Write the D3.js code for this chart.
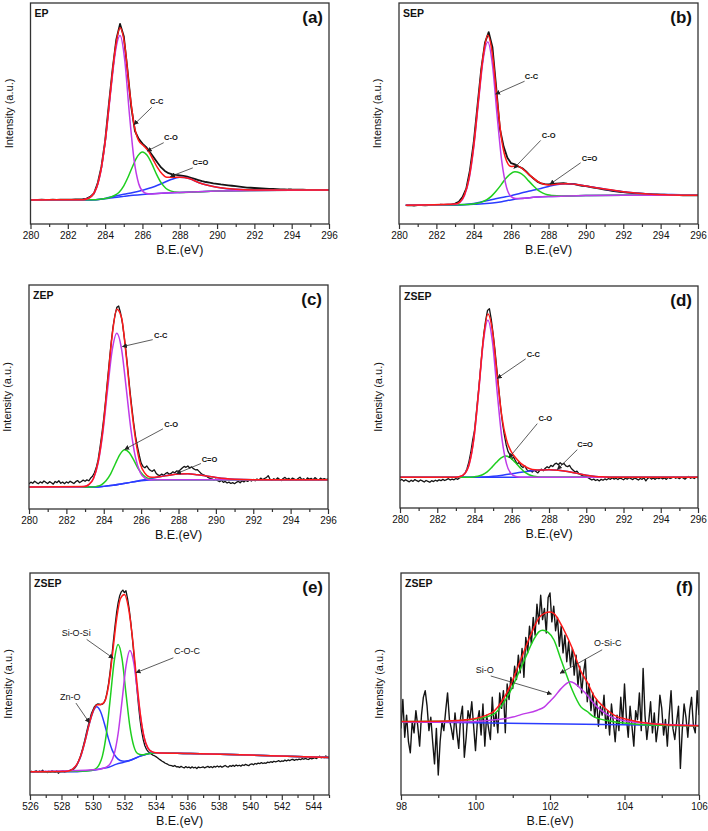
<!DOCTYPE html>
<html>
<head>
<meta charset="utf-8">
<script src="https://cdn.jsdelivr.net/npm/d3@7"></script>
<style>
  body { margin: 0; background: #fff; }
  svg { display: block; font-family: "Liberation Sans", Arial, sans-serif; }
</style>
</head>
<body>
<div id="chart"></div>
<script>
// ---------------- data (intensity in arbitrary units, 0-100 of each panel) ----------------

// (a) EP  C1s
const aBlackStart = 280, aBlackStep = 0.2;
const aBlack = [
  10.9, 10.8, 10.9, 11.0, 10.9, 10.9, 11.0, 10.9, 11.0, 11.0,
  11.0, 11.0, 11.1, 11.1, 11.2, 11.5, 12.3, 13.8, 18.4, 25.8,
  37.5, 54.0, 70.0, 83.5, 90.5, 85.0, 69.5, 53.0, 42.0, 38.5,
  36.4, 34.8, 32.6, 30.2, 27.8, 25.6, 24.0, 23.0, 22.5, 22.2,
  22.0, 21.8, 21.4, 20.9, 20.4, 19.9, 19.4, 19.0, 18.7, 18.4,
  18.2, 17.9, 17.7, 17.5, 17.3, 17.1, 16.9, 16.7, 16.5, 16.4,
  16.3, 16.2, 16.1, 16.0, 15.9, 15.9, 15.8, 15.7, 15.7, 15.6,
  15.6, 15.5, 15.5, 15.5, 15.4, 15.4, 15.4, 15.4, 15.4, 15.4,
  15.4
];
const aBg = [[280,10.9],[283,10.9],[283.5,11.0],[284,11.4],[284.5,12.0],[285,12.5],[285.5,13.0],[286,13.4],[287,13.9],[288,14.3],[289,14.6],[290,14.9],[292,15.2],[294,15.35],[296,15.4]];
const aCC = [[280,10.9],[282.8,11.0],[283.05,11.4],[283.3,12.75],[283.55,16.5],[283.8,25.2],[284.05,40.3],[284.3,60.0],[284.55,77.9],[284.8,85.3],[285.05,74.3],[285.3,49.9],[285.55,29.1],[285.8,18.2],[286.05,14.55],[286.3,13.7],[286.55,13.6],[287,13.9],[288,14.3],[290,14.9],[292,15.2],[296,15.4]];
const aCO = [[280,10.9],[283.5,11.0],[284,11.5],[284.25,12.0],[284.5,12.9],[284.75,14.4],[285,17.3],[285.25,21.6],[285.5,26.6],[285.75,30.8],[286,32.6],[286.25,31.1],[286.5,27.3],[286.75,22.6],[287,18.7],[287.25,16.2],[287.5,15.0],[287.75,14.5],[288,14.3],[290,14.9],[292,15.2],[296,15.4]];
const aCdO = [[280,10.9],[283.5,11.0],[284,11.6],[284.5,12.6],[285,13.5],[285.5,14.3],[286,15.3],[286.5,16.5],[287,18.2],[287.5,20.0],[288,21.1],[288.5,20.6],[289,18.8],[289.5,17.5],[290,16.6],[290.5,16.0],[291,15.7],[292,15.4],[296,15.4]];
const aFit = [[280,10.9],[282.8,11.0],[283.05,11.4],[283.3,12.8],[283.55,16.6],[283.8,25.5],[284.05,40.7],[284.3,61.0],[284.55,79.6],[284.8,88.8],[285.05,81.0],[285.3,61.0],[285.55,45.0],[285.8,37.7],[286.05,35.5],[286.3,33.2],[286.55,29.5],[286.8,25.6],[287.05,22.7],[287.3,21.1],[287.6,21.1],[288,21.1],[288.5,20.6],[289,18.8],[289.5,17.5],[290,16.6],[291,15.7],[292,15.4],[296,15.4]];
const aNotes = [
  { label: "C-C", tx: 286.41, ty: 54.1, sx: 286.50, sy: 52.8, ex: 285.55, ey: 45.0 },
  { label: "C-O", tx: 287.16, ty: 38.0, sx: 287.14, sy: 36.8, ex: 286.25, ey: 33.0 },
  { label: "C=O", tx: 288.69, ty: 26.5, sx: 288.70, sy: 25.4, ex: 287.50, ey: 21.5 }
];

// (b) SEP  C1s
const bBlackStart = 280.4, bBlackStep = 0.2;
const bBlack = [
  8.4, 8.5, 8.3, 8.5, 8.6, 8.4, 8.5, 8.6, 8.5, 8.7,
  8.6, 8.7, 8.8, 9.2, 10.0, 12.2, 16.0, 24.5, 37.0, 53.5,
  70.0, 82.0, 86.8, 80.0, 62.0, 43.0, 35.0, 30.0, 27.5, 27.0,
  26.0, 25.2, 23.8, 22.0, 20.6, 19.2, 18.4, 18.0, 17.9, 18.1,
  18.3, 18.4, 18.5, 18.3, 18.2, 18.0, 17.6, 17.3, 17.1, 16.8,
  16.5, 16.2, 15.9, 15.6, 15.3, 15.0, 14.8, 14.6, 14.4, 14.2,
  14.1, 13.9, 13.8, 13.7, 13.6, 13.5, 13.4, 13.4, 13.3, 13.3,
  13.2, 13.2, 13.1, 13.1, 13.0, 13.1, 13.0, 13.0, 13.0
];
const bBg = [[280.36,8.5],[283,8.6],[283.5,8.7],[284,8.9],[284.5,9.2],[285,9.5],[285.5,10.1],[286,10.9],[286.5,11.5],[287,11.9],[288,12.4],[289,12.7],[290,12.9],[292,13.0],[296,13.0]];
const bCC = [[280.36,8.5],[283,8.9],[283.25,9.7],[283.5,12.8],[283.75,20.3],[284,34.7],[284.25,55.0],[284.5,74.2],[284.75,82.3],[285,72.1],[285.25,49.1],[285.5,28.3],[285.75,16.7],[286,12.4],[286.25,11.5],[286.5,11.5],[287,11.9],[288,12.4],[289,12.7],[290,12.9],[292,13.0],[296,13.0]];
const bCO = [[280.36,8.5],[283.7,8.85],[284.2,9.4],[284.45,10.0],[284.7,11.0],[284.95,12.6],[285.2,14.9],[285.45,17.6],[285.7,20.5],[285.95,22.6],[286.2,23.6],[286.45,23.2],[286.7,21.7],[286.95,19.4],[287.2,17.2],[287.45,15.2],[287.7,14.0],[287.95,13.2],[288.2,12.9],[288.7,12.7],[290,12.9],[292,13.0],[296,13.0]];
const bCdO = [[280.36,8.5],[283,8.6],[283.5,8.8],[284,9.3],[284.5,10.2],[285,11.1],[285.5,12.0],[286,12.8],[286.5,13.9],[287,14.9],[287.5,15.9],[288,17.0],[288.5,17.9],[288.9,18.2],[289.5,17.9],[290,17.2],[290.5,16.5],[291,15.8],[291.5,15.2],[292,14.6],[292.8,13.9],[293.5,13.5],[294.6,13.3],[296,13.0]];
const bFit = [[280.36,8.5],[283,9.0],[283.25,9.9],[283.5,13.1],[283.75,20.8],[284,35.4],[284.25,56.0],[284.5,75.7],[284.75,85.4],[285,76.8],[285.25,56.1],[285.5,37.7],[285.75,28.6],[286,26.0],[286.25,26.2],[286.5,25.6],[286.75,24.0],[287,22.1],[287.5,18.8],[288,17.7],[288.5,18.05],[289,18.2],[290,17.2],[291,15.8],[292,14.6],[293.5,13.5],[296,13.0]];
const bNotes = [
  { label: "C-C", tx: 286.73, ty: 65.6, sx: 286.72, sy: 64.6, ex: 285.17, ey: 58.8 },
  { label: "C-O", tx: 287.64, ty: 38.9, sx: 287.58, sy: 37.8, ex: 286.15, ey: 25.2 },
  { label: "C=O", tx: 289.78, ty: 28.7, sx: 289.72, sy: 27.7, ex: 288.08, ey: 18.0 }
];

// (c) ZEP  C1s
const cBlackStart = 280, cBlackStep = 0.1;
const cBlack = [
  11.2, 12.0, 11.5, 12.4, 11.8, 11.3, 12.1, 11.6, 12.5, 11.9,
  11.4, 12.2, 11.7, 11.1, 12.3, 11.8, 12.6, 11.5, 12.0, 11.3,
  12.1, 11.6, 12.4, 11.9, 11.4, 12.2, 12.7, 11.8, 12.3, 12.9,
  12.4, 13.0, 12.6, 13.8, 14.6, 16.2, 18.5, 22.0, 27.5, 33.5,
  40.5, 48.5, 57.5, 66.0, 74.5, 81.5, 86.5, 90.0, 90.6, 87.5,
  83.0, 76.5, 69.5, 61.5, 53.0, 45.5, 38.5, 32.5, 28.0, 24.0,
  20.5, 19.0, 18.4, 19.2, 18.0, 17.2, 16.8, 17.5, 16.0, 15.2,
  14.9, 15.6, 15.0, 15.8, 16.3, 15.5, 15.9, 16.6, 16.2, 17.0,
  16.8, 17.5, 18.3, 19.0, 18.6, 19.2, 18.3, 18.8, 18.0, 17.5,
  17.6, 16.8, 16.0, 15.3, 15.0, 14.6, 14.0, 13.6, 13.4, 13.0,
  13.3, 12.6, 12.2, 12.8, 11.9, 12.3, 11.6, 12.0, 11.4, 11.8,
  11.3, 11.9, 12.4, 11.7, 12.6, 12.1, 12.8, 12.3, 13.0, 12.5,
  13.2, 12.6, 13.4, 12.9, 13.8, 13.1, 13.6, 14.0, 14.9, 13.3,
  12.8, 13.5, 13.0, 13.9, 13.3, 12.7, 13.6, 14.1, 13.2, 13.7,
  13.0, 13.8, 13.4, 12.9, 13.6, 14.2, 13.1, 13.5, 12.8, 13.9,
  13.3, 13.7, 13.0, 14.0, 13.4, 12.9, 13.8, 13.2, 13.6, 13.1,
  13.5
];
const cBg = [[280,9.8],[283.5,9.8],[284,10.1],[284.5,10.6],[285,11.3],[285.5,12.0],[286,12.6],[286.5,13.0],[287,13.1],[296,13.1]];
const cCC = [[280,9.8],[282.7,9.8],[282.95,10.0],[283.2,10.9],[283.45,13.6],[283.7,20.6],[283.95,34.0],[284.2,52.9],[284.45,70.8],[284.7,78.5],[284.95,71.5],[285.2,54.1],[285.45,35.8],[285.7,22.9],[285.95,16.3],[286.2,13.8],[286.45,13.1],[287,13.1],[296,13.1]];
const cCO = [[280,9.8],[283.37,9.85],[283.62,10.1],[283.87,10.8],[284.12,12.6],[284.37,15.7],[284.62,20.2],[284.87,24.4],[285.12,26.4],[285.37,25.1],[285.62,21.6],[285.87,17.7],[286.12,15.1],[286.37,13.7],[286.62,13.2],[287,13.1],[296,13.1]];
const cCdO = [[280,9.8],[283.5,9.8],[284,10.1],[284.5,10.6],[285,11.3],[285.5,12.0],[286,12.8],[286.5,13.6],[287,14.4],[287.5,15.1],[288,15.6],[288.5,15.7],[289,15.3],[289.5,14.7],[290,14.1],[290.5,13.6],[291,13.3],[292,13.1],[296,13.1]];
const cFit = [[280,9.8],[282.95,10.0],[283.2,10.9],[283.45,13.65],[283.7,21.0],[283.95,35.1],[284.2,56.0],[284.45,77.4],[284.7,89.2],[284.95,85.5],[285.2,68.6],[285.45,47.8],[285.7,31.1],[285.95,20.25],[286.2,16.0],[286.45,14.3],[286.7,14.2],[287,14.4],[287.5,15.1],[288,15.6],[288.5,15.7],[289,15.3],[289.5,14.7],[290,14.1],[290.5,13.6],[291,13.3],[292,13.1],[296,13.1]];
const cNotes = [
  { label: "C-C", tx: 286.69, ty: 76.3, sx: 286.62, sy: 75.6, ex: 285.0, ey: 72.5 },
  { label: "C-O", tx: 287.24, ty: 36.6, sx: 287.17, sy: 35.8, ex: 285.12, ey: 26.6 },
  { label: "C=O", tx: 289.24, ty: 21.2, sx: 289.20, sy: 20.3, ex: 287.90, ey: 15.8 }
];

// (d) ZSEP  C1s
const dBlackStart = 280, dBlackStep = 0.1;
const dBlack = [
  12.4, 12.9, 12.1, 12.7, 12.2, 11.8, 12.5, 12.0, 12.8, 12.3,
  11.9, 12.6, 12.2, 11.7, 12.4, 12.0, 11.6, 12.3, 11.9, 12.5,
  12.1, 12.7, 12.3, 12.9, 12.4, 12.8, 13.2, 12.6, 13.0, 12.7,
  13.3, 12.9, 13.6, 14.0, 14.8, 15.8, 17.8, 20.8, 25.0, 30.5,
  35.0, 43.0, 51.5, 60.5, 70.0, 78.5, 84.5, 89.0, 89.8, 85.0,
  78.5, 71.0, 62.5, 54.0, 45.5, 38.5, 33.0, 28.5, 25.5, 24.0,
  22.0, 23.0, 21.2, 19.8, 20.6, 18.9, 18.2, 19.0, 17.4, 16.6,
  16.9, 16.2, 17.0, 16.4, 15.8, 16.9, 17.5, 16.8, 17.9, 18.6,
  18.1, 19.2, 18.7, 19.8, 20.2, 19.5, 20.4, 19.6, 20.1, 19.0,
  18.6, 19.2, 17.8, 17.0, 16.2, 16.6, 15.5, 15.0, 14.6, 14.1,
  14.2, 13.6, 13.1, 12.6, 13.0, 12.4, 12.8, 12.2, 12.9, 12.5,
  13.1, 12.7, 13.3, 12.9, 13.6, 13.0, 13.4, 12.8, 13.5, 13.2,
  12.7, 13.4, 13.0, 13.7, 13.2, 12.8, 13.5, 13.1, 12.6, 13.3,
  12.9, 13.6, 12.2, 13.3, 13.8, 13.0, 13.5, 12.9, 13.6, 13.2,
  13.7, 13.1, 13.5, 12.9, 13.8, 13.3, 13.6, 14.1, 13.4, 13.8,
  13.2, 13.9, 13.5, 13.0, 13.7, 14.2, 13.4, 13.8, 13.3, 14.0,
  13.6
];
const dBg = [[280,13.9],[296,13.9]];
const dCC = [[280,13.9],[282.97,13.9],[283.22,14.2],[283.47,15.4],[283.72,19.9],[283.97,31.5],[284.22,52.0],[284.47,74.5],[284.72,84.6],[284.97,74.5],[285.22,52.0],[285.47,31.5],[285.72,19.9],[285.97,15.4],[286.22,14.2],[286.47,13.9],[296,13.9]];
const dCO = [[280,13.9],[283.68,13.9],[283.93,14.0],[284.18,14.3],[284.43,15.0],[284.68,16.3],[284.93,18.3],[285.18,20.6],[285.43,22.6],[285.68,23.4],[285.93,22.6],[286.18,20.6],[286.43,18.3],[286.68,16.3],[286.93,15.0],[287.18,14.3],[287.43,14.0],[287.68,13.9],[296,13.9]];
const dCdO = [[280,13.9],[284,13.9],[284.5,14.0],[285,14.3],[285.5,14.8],[286,15.4],[286.5,16.1],[287,16.7],[287.5,17.1],[288,17.2],[288.5,17.0],[289,16.4],[289.5,15.6],[290,14.8],[290.5,14.2],[291,14.0],[291.5,13.9],[296,13.9]];
const dFit = [[280,13.9],[282.97,13.9],[283.22,14.2],[283.47,15.4],[283.72,19.9],[283.97,31.6],[284.22,52.4],[284.47,75.6],[284.72,87.4],[284.97,79.4],[285.22,59.4],[285.47,41.1],[285.72,30.6],[285.97,25.4],[286.22,22.5],[286.47,20.2],[286.72,18.7],[286.97,17.7],[287.25,17.2],[287.5,17.1],[288,17.2],[288.5,17.0],[289,16.4],[289.5,15.6],[290,14.8],[290.5,14.2],[291,14.0],[291.5,13.9],[296,13.9]];
const dNotes = [
  { label: "C-C", tx: 286.80, ty: 68.2, sx: 286.75, sy: 67.2, ex: 285.22, ey: 58.4 },
  { label: "C-O", tx: 287.43, ty: 39.0, sx: 287.37, sy: 38.0, ex: 285.85, ey: 22.6 },
  { label: "C=O", tx: 289.52, ty: 27.3, sx: 289.52, sy: 26.3, ex: 288.45, ey: 17.4 }
];

// (e) ZSEP  O1s
const eBlackStart = 526, eBlackStep = 0.1;
const eBlack = [
  10.4, 10.7, 10.2, 10.6, 10.9, 10.3, 10.8, 10.5, 11.2, 10.4,
  10.6, 10.1, 10.7, 10.3, 10.9, 10.5, 10.2, 10.8, 9.8, 10.5,
  10.6, 10.9, 10.4, 10.8, 11.0, 10.7, 11.3, 11.2, 11.8, 12.6,
  13.8, 15.6, 17.4, 19.8, 22.5, 25.3, 28.4, 31.3, 34.0, 36.6,
  38.3, 39.8, 40.6, 41.0, 40.9, 40.7, 40.9, 41.5, 43.2, 46.3,
  50.5, 56.0, 62.5, 69.5, 76.0, 82.0, 86.5, 89.8, 91.5, 92.3,
  91.2, 92.0, 88.5, 84.0, 78.0, 71.0, 63.5, 55.5, 47.5, 40.0,
  33.5, 28.5, 24.8, 22.2, 20.6, 19.6, 19.0, 18.5, 18.0, 17.7,
  17.3, 16.8, 16.2, 15.7, 15.2, 14.8, 14.3, 14.0, 13.6, 13.3,
  13.2, 12.9, 13.3, 12.7, 12.8, 12.4, 12.9, 12.5, 12.2, 12.8,
  12.3, 12.6, 12.1, 12.7, 12.2, 12.5, 11.9, 12.6, 12.3, 12.4,
  12.7, 12.2, 12.6, 12.9, 12.4, 12.8, 12.3, 12.9, 12.6, 13.1,
  12.6, 13.0, 12.5, 12.9, 13.3, 12.8, 12.6, 13.2, 12.9, 13.4,
  12.9, 13.5, 13.1, 13.4, 13.0, 13.6, 13.3, 13.8, 13.5, 13.2,
  13.8, 14.0, 13.6, 14.2, 13.9, 14.4, 14.1, 14.6, 14.2, 14.5,
  14.3, 14.8, 14.6, 15.0, 14.7, 15.2, 14.9, 15.1, 15.5, 15.0,
  15.4, 15.2, 15.7, 15.3, 15.8, 15.5, 15.9, 16.1, 15.6, 16.0,
  15.8, 16.2, 15.9, 16.4, 16.1, 16.5, 16.2, 16.0, 16.6, 16.3,
  16.5, 16.8, 16.4, 16.9, 17.5, 16.7, 17.2, 16.8, 17.6, 17.0,
  16.9
];
const eBg = [[526,10.5],[529,10.5],[529.5,10.8],[530,11.1],[530.5,11.8],[531,12.5],[531.5,13.9],[532,14.8],[532.5,16.0],[533,17.5],[533.5,18.6],[534,19.0],[536,18.7],[540,18.0],[545,16.9]];
const eZnO = [[526,10.5],[528.23,10.6],[528.48,10.9],[528.73,11.75],[528.98,13.7],[529.23,17.5],[529.48,23.8],[529.73,31.0],[529.98,37.0],[530.23,39.7],[530.48,37.6],[530.73,32.1],[530.98,25.5],[531.23,20.1],[531.48,17.0],[531.73,15.55],[531.98,15.2],[532.23,15.4],[532.5,16.0],[533,17.5],[533.5,18.6],[534,19.0],[536,18.7],[540,18.0],[545,16.9]];
const eSiOSi = [[526,10.5],[529.6,10.85],[529.85,11.0],[530.1,11.5],[530.35,13.1],[530.6,17.5],[530.85,27.4],[531.1,43.4],[531.35,60.2],[531.6,67.8],[531.85,61.3],[532.1,45.7],[532.35,30.7],[532.6,21.9],[532.85,18.6],[533.1,18.1],[533.5,18.6],[534,19.0],[536,18.7],[540,18.0],[545,16.9]];
const eCOC = [[526,10.5],[530.35,11.5],[530.6,11.95],[530.85,12.6],[531.1,14.1],[531.35,18.4],[531.6,27.7],[531.85,42.5],[532.1,58.0],[532.35,65.1],[532.6,59.3],[532.85,45.1],[533.1,31.6],[533.35,23.4],[533.6,20.1],[533.85,19.2],[534.1,19.0],[536,18.7],[540,18.0],[545,16.9]];
const eFit = [[526,10.5],[528.25,10.6],[528.5,10.9],[528.75,11.9],[529,14.0],[529.25,18.1],[529.5,24.3],[529.75,31.6],[530,37.6],[530.25,40.6],[530.5,40.8],[530.75,42.2],[531,49.6],[531.25,63.9],[531.5,79.1],[531.75,88.5],[532,90.3],[532.25,84.6],[532.5,71.5],[532.75,53.8],[533,37.0],[533.25,26.0],[533.5,21.1],[533.75,19.5],[534,19.0],[536,18.7],[540,18.0],[545,16.9]];
const eNotes = [
  { label: "Zn-O", tx: 527.91, ty: 42.8, sx: 528.92, sy: 41.4, ex: 529.77, ey: 32.6 },
  { label: "Si-O-Si", tx: 528.01, ty: 71.4, sx: 529.60, sy: 70.1, ex: 531.29, ey: 61.6 },
  { label: "C-O-C", tx: 535.15, ty: 63.7, sx: 535.11, sy: 61.8, ex: 532.74, ey: 55.1 }
];

// (f) ZSEP  Si2p
const fBlackStart = 98, fBlackStep = 0.05;
const fBlack = [
  30, 43, 26, 36, 24, 19, 33, 28, 38, 31,
  22, 36, 44, 47, 40, 29, 35, 24, 14, 30,
  9, 24, 33, 29, 38, 46, 34, 30, 25, 37,
  28, 21, 35, 40, 17, 26, 38, 34, 42, 31,
  20, 33, 38, 27, 41, 22, 36, 30, 25, 44,
  31, 37, 28, 46, 39, 47, 28, 50, 43, 53,
  48, 58, 52, 63, 55, 66, 53, 71, 64, 76,
  68, 80, 72, 86, 77, 90, 79, 84, 73, 89,
  91, 78, 85, 74, 80, 67, 76, 64, 72, 60,
  69, 58, 66, 54, 63, 49, 58, 46, 55, 61,
  42, 50, 38, 46, 35, 43, 31, 40, 36, 45,
  30, 38, 27, 41, 33, 24, 36, 29, 44, 32,
  50, 35, 26, 40, 31, 22, 38, 34, 46, 29,
  57, 36, 25, 33, 42, 28, 37, 24, 31, 45,
  39, 27, 34, 22, 36, 47, 30, 25, 33, 40,
  12, 29, 41, 35, 26, 38, 44, 31, 28, 47,
  36
];
const fBg = [[98,33.0],[106,31.2]];
const fGreen = [[98,33.1],[99,33.2],[99.5,33.5],[100,34.2],[100.3,35.2],[100.5,36.5],[100.68,39.7],[100.95,47.2],[101.15,54.7],[101.35,62.2],[101.53,69.0],[101.7,73.5],[101.8,74.2],[101.95,73.3],[102.11,69.7],[102.27,62.2],[102.43,54.7],[102.6,47.2],[102.83,39.7],[103.0,37.6],[103.18,35.2],[103.72,33.0],[104.43,31.8],[105,31.4],[106,31.1]];
const fViolet = [[98,33.0],[99,32.8],[99.88,33.0],[100.59,34.0],[101.0,35.1],[101.22,36.2],[101.66,38.2],[101.85,39.7],[102.02,42.6],[102.11,44.1],[102.29,47.8],[102.55,51.0],[102.9,46.7],[103.27,39.6],[103.63,35.3],[104.08,33.2],[104.8,32.1],[106,31.3]];
const fFit = [[98,33.1],[99,33.2],[99.5,33.6],[100,34.5],[100.3,36.0],[100.5,37.8],[100.68,41.5],[100.95,49.8],[101.15,58.2],[101.35,66.7],[101.53,74.0],[101.7,79.7],[101.85,81.8],[102.0,82.4],[102.11,81.7],[102.27,77.6],[102.43,72.4],[102.6,66.0],[102.83,55.7],[103.0,50.8],[103.18,44.7],[103.45,39.5],[103.72,36.0],[104.08,34.0],[104.43,32.8],[105,31.8],[106,31.2]];
const fNotes = [
  { label: "Si-O", tx: 100.01, ty: 54.96, sx: 100.41, sy: 53.6, ex: 102.04, ey: 45.5 },
  { label: "O-Si-C", tx: 103.18, ty: 67.3, sx: 103.40, sy: 65.4, ex: 102.27, ey: 54.8 }
];

// tick values
const cTicks = [280, 282, 284, 286, 288, 290, 292, 294, 296];
const cMinor = [281, 283, 285, 287, 289, 291, 293, 295];
const oTicks = [526, 528, 530, 532, 534, 536, 538, 540, 542, 544];
const oMinor = [527, 529, 531, 533, 535, 537, 539, 541, 543, 545];
const sTicks = [98, 100, 102, 104, 106];
const sMinor = [99, 101, 103, 105];

// ---------------- drawing ----------------
function stepSeries(start, step, ys) {
  return ys.map(function (v, i) { return [start + i * step, v]; });
}

const colors = { black: "#141414", red: "#ff1a1a", violet: "#bf3be8", green: "#1fcf1f", blue: "#2b3cff" };

const panels = [
  { id: "a", name: "EP", tag: "(a)", left: 30.5, right: 329, top: 3, bottom: 224, xdom: [280, 296], major: cTicks, minor: cMinor, noteSize: 7.5, rawWidth: 1.8,
    black: stepSeries(aBlackStart, aBlackStep, aBlack),
    fits: [[aBg, "blue"], [aCdO, "blue"], [aCO, "green"], [aCC, "violet"], [aFit, "red"]], notes: aNotes },
  { id: "b", name: "SEP", tag: "(b)", left: 399, right: 698, top: 3, bottom: 224, xdom: [280, 296], major: cTicks, minor: cMinor, noteSize: 7.5, rawWidth: 1.8,
    black: stepSeries(bBlackStart, bBlackStep, bBlack),
    fits: [[bBg, "blue"], [bCdO, "blue"], [bCO, "green"], [bCC, "violet"], [bFit, "red"]], notes: bNotes },
  { id: "c", name: "ZEP", tag: "(c)", left: 29, right: 328, top: 285, bottom: 509, xdom: [280, 296], major: cTicks, minor: cMinor, noteSize: 7.5, rawWidth: 1.3,
    black: stepSeries(cBlackStart, cBlackStep, cBlack),
    fits: [[cBg, "blue"], [cCdO, "blue"], [cCO, "green"], [cCC, "violet"], [cFit, "red"]], notes: cNotes },
  { id: "d", name: "ZSEP", tag: "(d)", left: 400, right: 698, top: 286, bottom: 508, xdom: [280, 296], major: cTicks, minor: cMinor, noteSize: 7.5, rawWidth: 1.3,
    black: stepSeries(dBlackStart, dBlackStep, dBlack),
    fits: [[dBg, "blue"], [dCdO, "blue"], [dCO, "green"], [dCC, "violet"], [dFit, "red"]], notes: dNotes },
  { id: "e", name: "ZSEP", tag: "(e)", left: 30, right: 329, top: 573, bottom: 795, xdom: [526, 545], major: oTicks, minor: oMinor, noteSize: 9, rawWidth: 1.3,
    black: stepSeries(eBlackStart, eBlackStep, eBlack),
    fits: [[eBg, "blue"], [eZnO, "blue"], [eSiOSi, "green"], [eCOC, "violet"], [eFit, "red"]], notes: eNotes },
  { id: "f", name: "ZSEP", tag: "(f)", left: 401, right: 699, top: 573, bottom: 795, xdom: [98, 106], major: sTicks, minor: sMinor, noteSize: 9, rawWidth: 1.4,
    black: stepSeries(fBlackStart, fBlackStep, fBlack),
    fits: [[fBg, "blue"], [fGreen, "green"], [fViolet, "violet"], [fFit, "red"]], notes: fNotes }
];

const svg = d3.select("#chart").append("svg")
  .attr("width", 708)
  .attr("height", 831);

const defs = svg.append("defs");
defs.append("marker")
  .attr("id", "arrowhead")
  .attr("viewBox", "0 0 10 10")
  .attr("refX", 9).attr("refY", 5)
  .attr("markerWidth", 5).attr("markerHeight", 5)
  .attr("markerUnits", "userSpaceOnUse")
  .attr("orient", "auto")
  .append("path")
  .attr("d", "M0,0 L10,5 L0,10 z")
  .attr("fill", "#222");

panels.forEach(function (p) {
  const x = d3.scaleLinear().domain(p.xdom).range([p.left, p.right]);
  const y = d3.scaleLinear().domain([0, 100]).range([p.bottom, p.top]);

  defs.append("clipPath").attr("id", "clip-" + p.id)
    .append("rect")
    .attr("x", p.left).attr("y", p.top)
    .attr("width", p.right - p.left).attr("height", p.bottom - p.top);

  const g = svg.append("g").attr("id", "panel-" + p.id);
  const plot = g.append("g").attr("clip-path", "url(#clip-" + p.id + ")");

  // raw spectrum
  plot.append("path")
    .datum(p.black)
    .attr("fill", "none")
    .attr("stroke", colors.black)
    .attr("stroke-width", p.rawWidth)
    .attr("stroke-linejoin", "round")
    .attr("d", d3.line().x(d => x(d[0])).y(d => y(d[1])));

  // fitted components, envelope last
  const smooth = d3.line().curve(d3.curveMonotoneX).x(d => x(d[0])).y(d => y(d[1]));
  p.fits.forEach(function (f) {
    plot.append("path")
      .datum(f[0])
      .attr("fill", "none")
      .attr("stroke", colors[f[1]])
      .attr("stroke-width", 1.5)
      .attr("d", smooth);
  });

  // frame
  g.append("rect")
    .attr("x", p.left).attr("y", p.top)
    .attr("width", p.right - p.left).attr("height", p.bottom - p.top)
    .attr("fill", "none")
    .attr("stroke", "#333")
    .attr("stroke-width", 1.3);

  // bottom axis: major ticks with labels, minor ticks without
  const ax = g.append("g")
    .attr("transform", "translate(0," + p.bottom + ")")
    .call(d3.axisBottom(x).tickValues(p.major).tickSize(5).tickPadding(3).tickFormat(d3.format("d")));
  ax.select(".domain").remove();
  ax.attr("font-family", null).attr("font-size", null);
  ax.selectAll("line").attr("stroke", "#333").attr("stroke-width", 1.2);
  ax.selectAll("text").style("font-size", "10px").attr("fill", "#111");

  const mx = g.append("g")
    .attr("transform", "translate(0," + p.bottom + ")")
    .call(d3.axisBottom(x).tickValues(p.minor).tickSize(3).tickFormat(""));
  mx.select(".domain").remove();
  mx.selectAll("line").attr("stroke", "#333").attr("stroke-width", 1.2);

  // axis titles
  g.append("text")
    .attr("x", (p.left + p.right) / 2)
    .attr("y", p.bottom + 30)
    .attr("text-anchor", "middle")
    .style("font-size", "12.5px")
    .attr("fill", "#111")
    .text("B.E.(eV)");

  g.append("text")
    .attr("transform", "translate(" + (p.left - 18) + "," + ((p.top + p.bottom) / 2) + ") rotate(-90)")
    .attr("text-anchor", "middle")
    .style("font-size", "11px")
    .attr("fill", "#111")
    .text("Intensity (a.u.)");

  // sample name and panel tag
  g.append("text")
    .attr("x", p.left + 4)
    .attr("y", p.top + 13.5)
    .style("font-size", "10.5px")
    .style("font-weight", "bold")
    .attr("fill", "#111")
    .text(p.name);

  g.append("text")
    .attr("x", p.right - 6)
    .attr("y", p.top + 20)
    .attr("text-anchor", "end")
    .style("font-size", "17px")
    .style("font-weight", "bold")
    .attr("fill", "#111")
    .text(p.tag);

  // peak annotations
  p.notes.forEach(function (n) {
    g.append("line")
      .attr("x1", x(n.sx)).attr("y1", y(n.sy))
      .attr("x2", x(n.ex)).attr("y2", y(n.ey))
      .attr("stroke", "#333")
      .attr("stroke-width", 0.8)
      .attr("marker-end", "url(#arrowhead)");
    g.append("text")
      .attr("x", x(n.tx)).attr("y", y(n.ty))
      .style("font-size", p.noteSize + "px")
      .style("font-weight", p.noteSize < 8 ? "bold" : "normal")
      .attr("fill", "#111")
      .text(n.label);
  });
});
</script>
</body>
</html>
